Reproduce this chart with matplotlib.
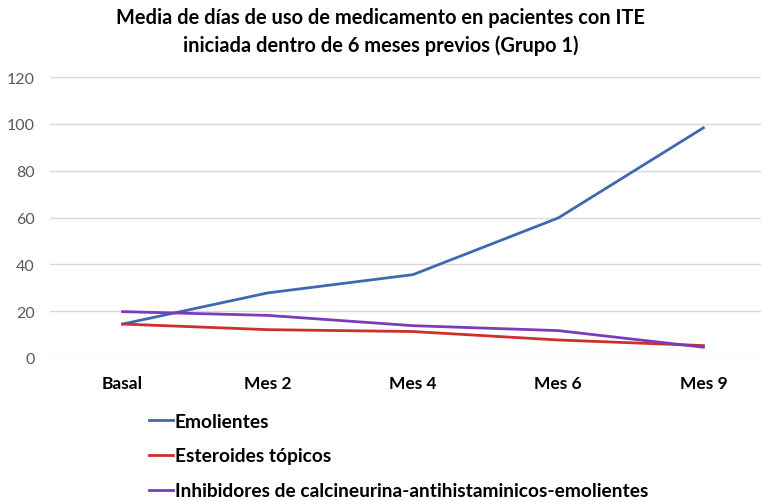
import numpy as np
import matplotlib
matplotlib.use("Agg")
import matplotlib.pyplot as plt

# --- Data -----------------------------------------------------------------

categories = ["Basal", "Mes 2", "Mes 4", "Mes 6", "Mes 9"]
emolientes = [14.5, 27.8, 35.6, 59.8, 98.3]
esteroides = [14.5, 12.1, 11.3, 7.7, 5.3]
inhibidores = [19.8, 18.2, 13.8, 11.7, 4.6]

series_names = ["Emolientes", "Esteroides tópicos",
                "Inhibidores de calcineurina-antihistaminicos-emolientes"]
series_colors = ["#3F68B0", "#CC302B", "#7A3CB8"]

# --------------------------------------------------------------------------

plt.rcParams["font.family"] = ["Lato", "DejaVu Sans"]

W, H = 761, 502
fig = plt.figure(figsize=(W / 100, H / 100), dpi=100)
ax = fig.add_axes([50 / W, 1 - 359 / H, 726 / W, 281 / H])

x = np.arange(len(categories))
for vals, name, col in zip([emolientes, esteroides, inhibidores],
                           series_names, series_colors):
    ax.plot(x, vals, color=col, linewidth=2, label=name)

ax.set_xlim(-0.5, len(categories) - 0.5)
ax.set_ylim(0, 120)
ax.set_yticks(range(0, 121, 20))
ax.set_xticks(x)
ax.set_xticklabels(categories, fontweight="bold", fontsize=12.5, color="black")
ax.tick_params(axis="x", length=0, pad=12)
ax.tick_params(axis="y", length=0, pad=11, labelsize=11.5, labelcolor="#595959")
ax.grid(axis="y", color="#D9D9D9", linewidth=1)
ax.set_axisbelow(True)
for s in ax.spines.values():
    s.set_visible(False)

fig.text(0.5, 1 - 18 / H, "Media de días de uso de medicamento en pacientes con ITE",
         ha="center", va="center", fontsize=14.4, fontweight="bold")
fig.text(0.5, 1 - 46 / H, "iniciada dentro de 6 meses previos (Grupo 1)",
         ha="center", va="center", fontsize=14.4, fontweight="bold")

fig.legend(loc="upper left", bbox_to_anchor=(141 / W, 1 - 406 / H),
           frameon=False, handlelength=1.25, handletextpad=0.1,
           labelspacing=0.93, borderaxespad=0,
           prop={"weight": "bold", "size": 13.8})

fig.savefig("out.png", dpi=100)
